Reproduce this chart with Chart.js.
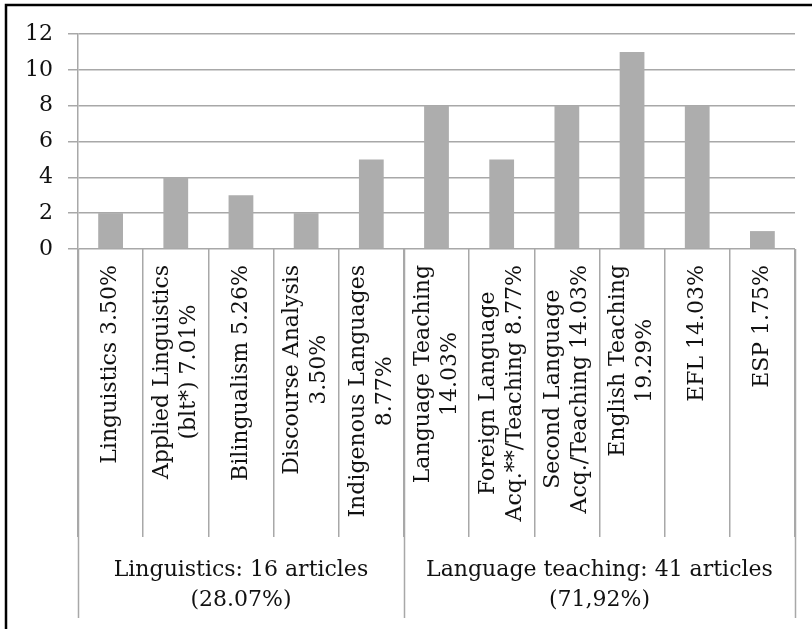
<!DOCTYPE html>
<html>
<head>
<meta charset="utf-8">
<script src="https://cdn.jsdelivr.net/npm/chart.js@4.4.1/dist/chart.umd.min.js"></script>
<style>
  html, body { margin: 0; padding: 0; background: #fff; }
  canvas { display: block; }
</style>
</head>
<body>
<canvas id="chart" width="812" height="629"></canvas>
<script>
// 数据
const categories = [
    ['Linguistics 3.50%'],
    ['Applied Linguistics', '(blt*) 7.01%'],
    ['Bilingualism 5.26%'],
    ['Discourse Analysis', '3.50%'],
    ['Indigenous Languages', '8.77%'],
    ['Language Teaching', '14.03%'],
    ['Foreign Language', 'Acq.**/Teaching 8.77%'],
    ['Second Language', 'Acq./Teaching 14.03%'],
    ['English Teaching', '19.29%'],
    ['EFL 14.03%'],
    ['ESP 1.75%']
];
const articleCounts = [2, 4, 3, 2, 5, 8, 5, 8, 11, 8, 1];
const yTicks = [0, 2, 4, 6, 8, 10, 12];
const groupLabels = [
    ['Linguistics: 16 articles', '(28.07%)'],
    ['Language teaching: 41 articles', '(71,92%)']
];
// 每组起止的类别下标
const groupStarts = [0, 5];
const groupEnds = [4, 10];

const FONT = '"DejaVu Serif", serif';
const GRID = '#a8a8a8';

// 画类别标签、分组标签和外框
const axisLabelPlugin = {
    id: 'axisLabels',
    afterDraw: function(chart) {
        const ctx = chart.ctx;
        const x = chart.scales.x;
        const area = chart.chartArea;
        const step = x.getPixelForValue(1) - x.getPixelForValue(0);
        ctx.save();
        ctx.fillStyle = '#111';
        ctx.font = '22px ' + FONT;

        // 竖排类别标签
        categories.forEach((lines, i) => {
            const cx = x.getPixelForValue(i);
            const maxW = Math.max(...lines.map(l => ctx.measureText(l).width));
            ctx.save();
            ctx.translate(cx, area.bottom + 16 + maxW / 2);
            ctx.rotate(-Math.PI / 2);
            ctx.textAlign = 'center';
            ctx.textBaseline = 'middle';
            lines.forEach((line, j) => {
                ctx.fillText(line, 0, (j - (lines.length - 1) / 2) * 27);
            });
            ctx.restore();
        });

        // 分组标签
        ctx.textAlign = 'center';
        ctx.textBaseline = 'middle';
        groupLabels.forEach((lines, g) => {
            const left = x.getPixelForValue(groupStarts[g]) - step / 2;
            const right = x.getPixelForValue(groupEnds[g]) + step / 2;
            lines.forEach((line, j) => {
                ctx.fillText(line, (left + right) / 2, 570 + j * 30);
            });
        });

        // 分组分隔线
        ctx.strokeStyle = GRID;
        ctx.lineWidth = 1.5;
        const bounds = [area.left, x.getPixelForValue(groupStarts[1]) - step / 2, area.right];
        bounds.forEach(bx => {
            const px = Math.round(bx) + 0.5;
            ctx.beginPath();
            ctx.moveTo(px, area.bottom);
            ctx.lineTo(px, 618);
            ctx.stroke();
        });

        // 外框
        ctx.strokeStyle = '#000';
        ctx.lineWidth = 2.5;
        ctx.beginPath();
        ctx.moveTo(6, 629);
        ctx.lineTo(6, 5);
        ctx.lineTo(812, 5);
        ctx.stroke();
        ctx.restore();
    }
};

new Chart(document.getElementById('chart'), {
    type: 'bar',
    data: {
        labels: categories.map(c => c.join(' ')),
        datasets: [{
            data: articleCounts,
            backgroundColor: '#adadad',
            borderWidth: 0,
            barPercentage: 0.38,
            categoryPercentage: 1
        }]
    },
    options: {
        responsive: false,
        animation: false,
        layout: {
            padding: { top: 34, right: 17, left: 0, bottom: 0 }
        },
        plugins: {
            legend: { display: false },
            tooltip: { enabled: false }
        },
        scales: {
            x: {
                ticks: { display: false },
                grid: {
                    offset: true,
                    drawOnChartArea: false,
                    drawTicks: true,
                    tickLength: 288,
                    color: GRID,
                    lineWidth: 1.5
                },
                border: { display: false },
                afterFit: function(scale) { scale.height = 380; }
            },
            y: {
                min: 0,
                max: 12,
                afterBuildTicks: function(scale) {
                    scale.ticks = yTicks.map(v => ({ value: v }));
                },
                ticks: {
                    color: '#111',
                    padding: 15,
                    font: { family: FONT, size: 22 }
                },
                grid: {
                    color: GRID,
                    lineWidth: 1.5,
                    tickLength: 10
                },
                border: { display: true, color: GRID, width: 1.5 },
                afterFit: function(scale) { scale.width = 78; }
            }
        }
    },
    plugins: [axisLabelPlugin]
});
</script>
</body>
</html>
